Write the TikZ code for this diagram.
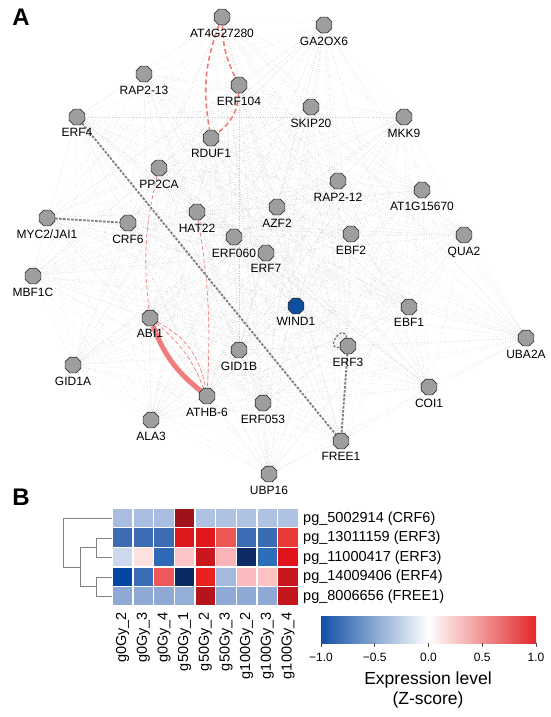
\documentclass[tikz,border=0pt]{standalone}
\usepackage{fontspec}
\setmainfont{Liberation Sans}
\usetikzlibrary{shapes.geometric,backgrounds}

\definecolor{nodegray}{HTML}{9E9E9E}
\definecolor{windblue}{HTML}{0B4F9E}
\definecolor{coral}{HTML}{F07C7C}
\definecolor{reggray}{HTML}{7C7C7C}
\definecolor{cbblue}{HTML}{1150A5}
\definecolor{cbred}{HTML}{E2272A}

\tikzset{
  genelab/.style={font=\fontsize{12}{12}\selectfont, label distance=0pt},
  gene/.style={regular polygon, regular polygon sides=8, minimum size=17pt, inner sep=0pt,
    fill=nodegray, draw=black!80, line width=0.7pt, label={[genelab]below:#1}},
  faint/.style={draw=gray, opacity=0.42, dotted, line width=0.4pt},
  coexp/.style={draw=coral, dash pattern=on 5pt off 3pt, line width=1.6pt},
  coexpthin/.style={draw=coral, dash pattern=on 4pt off 2.5pt, line width=0.7pt},
  coexpthick/.style={draw=coral, line width=5pt},
  reg/.style={draw=reggray, dash pattern=on 2.5pt off 1.5pt, line width=1.8pt},
  panel/.style={font=\fontsize{24}{24}\selectfont\bfseries},
  heatlab/.style={font=\fontsize{14.5}{14.5}\selectfont, inner sep=1pt},
  dendro/.style={draw=black!50, line width=0.8pt},
}

\def\genes{at4g,ga2ox6,rap213,erf104,skip20,erf4,mkk9,rduf1,pp2ca,rap212,at1g,hat22,azf2,myc2,crf6,erf060,ebf2,qua2,erf7,mbf1c,wind1,ebf1,abi1,uba2a,erf3,gid1b,gid1a,coi1,athb6,erf053,ala3,free1,ubp16}

\begin{document}
\begin{tikzpicture}[x=1pt, y=-1pt]
  \useasboundingbox (0,0) rectangle (550,717);
  % panel letters
  \node[panel] (labA) at (21,17) {A};
  \node[panel] (labB) at (21,497) {B};
  % genes
  \foreach \n/\x/\y/\t in {at4g/222/17/AT4G27280, ga2ox6/324/25/GA2OX6,
      rap213/144/74/RAP2-13, erf104/239/85/ERF104, skip20/311/107/SKIP20,
      erf4/77/117/ERF4, mkk9/404/117/MKK9, rduf1/211/138/RDUF1,
      pp2ca/159/168/PP2CA, rap212/338/181/RAP2-12, at1g/422/190/AT1G15670,
      hat22/197/212/HAT22, azf2/277/207/AZF2, myc2/47/218/{MYC2/JAI1},
      crf6/128/223/CRF6, erf060/234/237/ERF060, ebf2/351/234/EBF2,
      qua2/464/235/QUA2, erf7/266/253/ERF7, mbf1c/33/276/MBF1C,
      ebf1/409/307/EBF1, abi1/150/318/ABI1, uba2a/526/338/UBA2A,
      erf3/348/346/ERF3, gid1b/239/350/GID1B, gid1a/73/365/GID1A,
      coi1/429/387/COI1, athb6/207/396/ATHB-6, erf053/263/403/ERF053,
      ala3/151/420/ALA3, free1/341/441/FREE1, ubp16/269/474/UBP16} {
    \node[gene=\t] (\n) at (\x,\y) {};
  }
  \node[gene=WIND1, fill=windblue] (wind1) at (296,306) {};
  \begin{pgfonlayer}{background}
    % interaction haze
    \foreach \a [count=\i] in \genes {
      \foreach \b [count=\j] in \genes {
        \ifnum\j>\i \draw[faint] (\a) -- (\b); \fi
      }
    }
    % co-expression
    \draw[coexp] (at4g) to[bend right=15] (rduf1);
    \draw[coexp] (at4g) to[bend right=12] (erf104);
    \draw[coexp] (erf104) to[bend left=25] (rduf1);
    \draw[coexpthin] (pp2ca) to[bend right=10] (abi1);
    \draw[coexpthin] (hat22) to[bend left=6] (athb6);
    \draw[coexpthin] (abi1) to[bend left=14] (athb6);
    \draw[coexpthin] (abi1) to[bend left=26] (athb6);
    \draw[coexpthick] (abi1) to[bend right=15] (athb6);
    % regulation
    \draw[reg] (erf4) -- (free1);
    \draw[reg] (myc2) -- (crf6);
    \draw[reg] (erf3) -- (free1);
    \draw[reg, line width=1.3pt] (erf3) to[out=100, in=190, min distance=17pt] (erf3);
  \end{pgfonlayer}
  % heatmap
  \foreach \row [count=\r] in {
      {A8BDE0,A8BDE0,A8BDE0,A0121A,AFC2E2,AFC2E2,AFC2E2,AFC2E2,AFC2E2},
      {3C6DB4,3C6DB4,3C6DB4,DC1A1E,E0181C,EE5555,3C6DB4,3A6CB4,E83A36},
      {CCD8EE,FDE0E0,2E69B6,FCC6C8,C8171D,FAB4B8,0C2A66,2D6DBA,E0141A},
      {0446A3,3C6DB4,EE5858,0A2A62,E8221E,A4B9DE,FBBABD,FCC2C4,C8181E},
      {90A8D4,90A8D4,90A8D4,94AED8,B5141C,90A8D4,90A8D4,90A8D4,C0161C}} {
    \foreach \c [count=\k] in \row {
      \definecolor{cell}{HTML}{\c}
      \fill[cell] ({112.3+(\k-1)*20.67+0.6}, {508.3+(\r-1)*19.54+0.6}) rectangle ++(19.47,18.34);
    }
  }
  % row labels
  \foreach \t [count=\r] in {pg\_5002914 (CRF6), pg\_13011159 (ERF3), pg\_11000417 (ERF3),
      pg\_14009406 (ERF4), pg\_8006656 (FREE1)} {
    \node[heatlab, anchor=west] (row\r) at (302, {518.3+(\r-1)*19.54}) {\t};
  }
  % column labels
  \foreach \t [count=\k] in {g0Gy\_2, g0Gy\_3, g0Gy\_4, g50Gy\_1, g50Gy\_2, g50Gy\_3,
      g100Gy\_2, g100Gy\_3, g100Gy\_4} {
    \node[heatlab, rotate=90, anchor=east] (col\k) at ({112.3+(\k-0.5)*20.67}, 611) {\t};
  }
  % dendrogram
  \draw[dendro] (112.3,537.9) -| (96,557.4) -- (112.3,557.4);
  \draw[dendro] (112.3,577.0) -| (96,596.5) -- (112.3,596.5);
  \draw[dendro] (96,547.6) -| (80,586.7) -- (96,586.7);
  \draw[dendro] (112.3,518.3) -| (63,567.2) -- (80,567.2);
  % colour bar
  \shade[left color=cbblue, right color=white] (321,616) rectangle (428.5,643);
  \shade[left color=white, right color=cbred] (428.5,616) rectangle (536,643);
  \foreach \v/\l [count=\k] in {-1/−1.0, -0.5/−0.5, 0/0.0, 0.5/0.5, 1/1.0} {
    \draw[black!70, line width=0.6pt] ({428.5+\v*107.5},643) -- ++(0,4);
    \node[font=\fontsize{12}{12}\selectfont] (tick\k) at ({428.5+\v*107.5},657) {\l};
  }
  \node[font=\fontsize{17.5}{20}\selectfont, align=center] (cbtitle) at (428,690)
    {Expression level\\(Z-score)};
\end{tikzpicture}
\end{document}
